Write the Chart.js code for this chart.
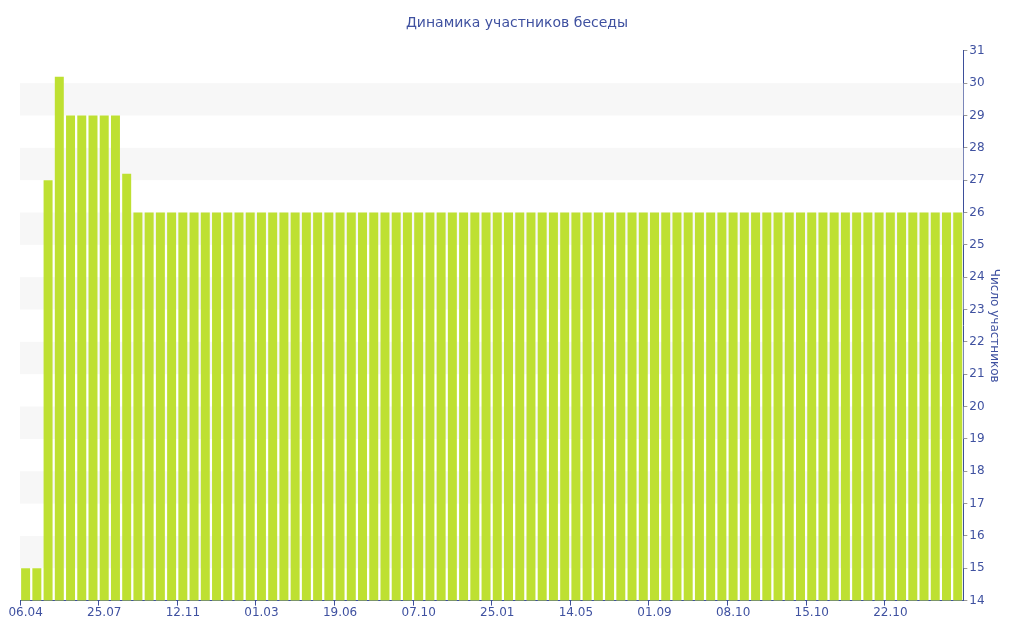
<!DOCTYPE html>
<html>
<head>
<meta charset="utf-8">
<script src="https://cdn.jsdelivr.net/npm/chart.js@4"></script>
<style>
  html, body { margin: 0; padding: 0; background: #fff; }
  #wrap { width: 1024px; height: 640px; }
</style>
</head>
<body>
<div id="wrap"><canvas id="memberChart" width="1024" height="640"></canvas></div>
<script>
var tickDates = ['06.04', '25.07', '12.11', '01.03', '19.06', '07.10', '25.01', '14.05', '01.09', '08.10', '15.10', '22.10'];

var members = [
    15, 15, 27, 30.2, 29, 29, 29, 29, 29, 27.2,
    26, 26, 26, 26, 26, 26, 26, 26, 26, 26,
    26, 26, 26, 26, 26, 26, 26, 26, 26, 26,
    26, 26, 26, 26, 26, 26, 26, 26, 26, 26,
    26, 26, 26, 26, 26, 26, 26, 26, 26, 26,
    26, 26, 26, 26, 26, 26, 26, 26, 26, 26,
    26, 26, 26, 26, 26, 26, 26, 26, 26, 26,
    26, 26, 26, 26, 26, 26, 26, 26, 26, 26,
    26, 26, 26, 26
];

var labelStep = 7;
var axisColor = '#3d4f9a';
var textColor = '#3f51a0';

// one label slot per bar, dates only on every 7th
var myLabels = members.map(function (v, i) {
    return i % labelStep === 0 ? (tickDates[i / labelStep] || '') : '';
});

var bandPlugin = {
    id: 'bands',
    beforeDatasetsDraw: function (chart) {
        var ctx = chart.ctx;
        var area = chart.chartArea;
        var y = chart.scales.y;
        ctx.save();
        ctx.fillStyle = '#f7f7f7';
        for (var v = 15; v < 31; v += 2) {
            var top = y.getPixelForValue(v + 1);
            var bottom = y.getPixelForValue(v);
            ctx.fillRect(area.left, top, area.right - area.left, bottom - top);
        }
        ctx.restore();
    }
};

Chart.defaults.font.family = '"DejaVu Sans", Verdana, sans-serif';
Chart.defaults.color = textColor;

var ctx = document.getElementById('memberChart').getContext('2d');
var myChart = new Chart(ctx, {
    type: 'bar',
    data: {
        labels: myLabels,
        datasets: [{
            label: 'Число участников',
            data: members,
            backgroundColor: '#bee032',
            borderWidth: 0,
            barPercentage: 0.8,
            categoryPercentage: 1
        }]
    },
    options: {
        responsive: false,
        animation: false,
        layout: {
            padding: { left: 20, right: 10, bottom: 20 }
        },
        plugins: {
            legend: { display: false },
            tooltip: { enabled: false },
            title: {
                display: true,
                text: 'Динамика участников беседы',
                color: textColor,
                font: { size: 14, weight: 'normal' },
                padding: { top: 15, bottom: 19 }
            }
        },
        scales: {
            x: {
                offset: true,
                border: { color: axisColor, width: 1 },
                grid: {
                    drawOnChartArea: false,
                    tickLength: 5,
                    color: function (c) {
                        return c.index % labelStep === 0 ? axisColor : 'transparent';
                    }
                },
                ticks: {
                    autoSkip: false,
                    maxRotation: 0,
                    padding: 0,
                    font: { size: 12 },
                    color: textColor
                }
            },
            y: {
                position: 'right',
                min: 14,
                max: 31,
                border: { color: axisColor, width: 1 },
                grid: {
                    drawOnChartArea: false,
                    tickLength: 4,
                    color: '#999999'
                },
                ticks: {
                    stepSize: 0.5,
                    padding: 2,
                    font: { size: 12 },
                    color: textColor,
                    callback: function (value) {
                        return Number.isInteger(value) ? value : '';
                    }
                },
                title: {
                    display: true,
                    text: 'Число участников',
                    color: textColor,
                    font: { size: 12 },
                    padding: { top: 13, bottom: 0 }
                }
            }
        }
    },
    plugins: [bandPlugin]
});
</script>
</body>
</html>
